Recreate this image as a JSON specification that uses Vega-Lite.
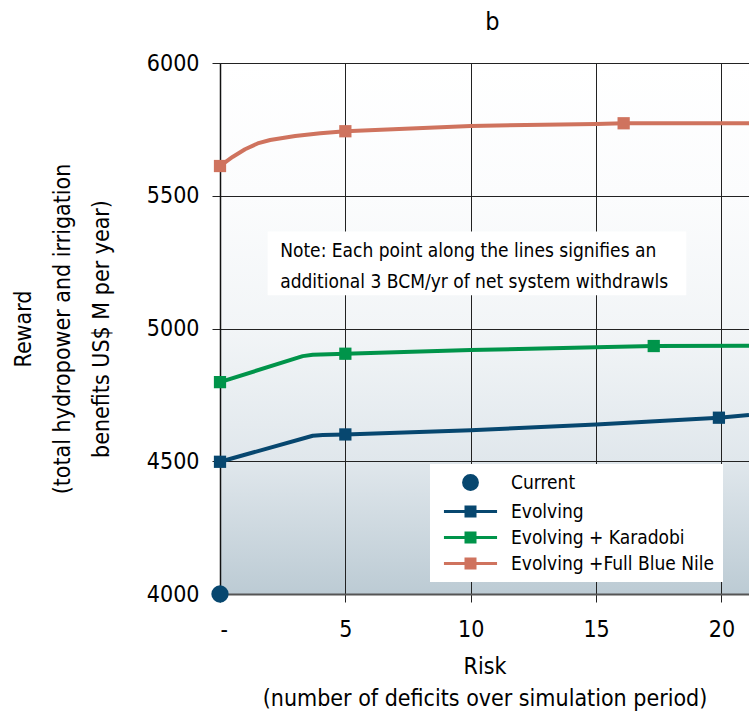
{
  "$schema": "https://vega.github.io/schema/vega-lite/v6.json",
  "width": 529,
  "height": 531,
  "autosize": {"type": "none"},
  "padding": {"left": 220, "top": 63, "right": 0, "bottom": 118},
  "background": "white",
  "title": {"text": "b", "fontSize": 25, "font": "DejaVu Sans Condensed, Liberation Sans", "fontWeight": "normal", "anchor": "middle", "dx": 8, "offset": 17, "color": "black"},
  "config": {"view": {"stroke": null, "fill": {"gradient": "linear", "x1": 0, "y1": 0, "x2": 0, "y2": 1, "stops": [
        {"offset": 0, "color": "#ffffff"},
        {"offset": 0.25, "color": "#fbfcfd"},
        {"offset": 0.5, "color": "#f2f5f7"},
        {"offset": 0.75, "color": "#e0e7ec"},
        {"offset": 1, "color": "#bccbd4"}
      ]}}, "font": "DejaVu Sans Condensed, Liberation Sans"},
  "datasets": {
    "lines": [
      {"series": "Evolving", "risk": 0, "reward": 4498},
      {"series": "Evolving", "risk": 3.7, "reward": 4596},
      {"series": "Evolving", "risk": 4.1, "reward": 4599},
      {"series": "Evolving", "risk": 5, "reward": 4601},
      {"series": "Evolving", "risk": 10, "reward": 4617},
      {"series": "Evolving", "risk": 15, "reward": 4638},
      {"series": "Evolving", "risk": 19.9, "reward": 4664},
      {"series": "Evolving", "risk": 21.1, "reward": 4674},
      {"series": "Evolving + Karadobi", "risk": 0, "reward": 4798},
      {"series": "Evolving + Karadobi", "risk": 3.3, "reward": 4896},
      {"series": "Evolving + Karadobi", "risk": 3.7, "reward": 4901},
      {"series": "Evolving + Karadobi", "risk": 5, "reward": 4905},
      {"series": "Evolving + Karadobi", "risk": 10, "reward": 4919},
      {"series": "Evolving + Karadobi", "risk": 15, "reward": 4929},
      {"series": "Evolving + Karadobi", "risk": 17.3, "reward": 4934},
      {"series": "Evolving + Karadobi", "risk": 21.1, "reward": 4935},
      {"series": "Evolving +Full Blue Nile", "risk": 0, "reward": 5612},
      {"series": "Evolving +Full Blue Nile", "risk": 0.5, "reward": 5646},
      {"series": "Evolving +Full Blue Nile", "risk": 1, "reward": 5675},
      {"series": "Evolving +Full Blue Nile", "risk": 1.5, "reward": 5697},
      {"series": "Evolving +Full Blue Nile", "risk": 2, "reward": 5710},
      {"series": "Evolving +Full Blue Nile", "risk": 3, "reward": 5725},
      {"series": "Evolving +Full Blue Nile", "risk": 4, "reward": 5735},
      {"series": "Evolving +Full Blue Nile", "risk": 5, "reward": 5743},
      {"series": "Evolving +Full Blue Nile", "risk": 10, "reward": 5763},
      {"series": "Evolving +Full Blue Nile", "risk": 15, "reward": 5770},
      {"series": "Evolving +Full Blue Nile", "risk": 16.1, "reward": 5773},
      {"series": "Evolving +Full Blue Nile", "risk": 21.1, "reward": 5773}
    ],
    "markers": [
      {"series": "Current", "risk": 0, "reward": 4000},
      {"series": "Evolving", "risk": 0, "reward": 4498},
      {"series": "Evolving", "risk": 5, "reward": 4601},
      {"series": "Evolving", "risk": 19.9, "reward": 4664},
      {"series": "Evolving + Karadobi", "risk": 0, "reward": 4798},
      {"series": "Evolving + Karadobi", "risk": 5, "reward": 4905},
      {"series": "Evolving + Karadobi", "risk": 17.3, "reward": 4934},
      {"series": "Evolving +Full Blue Nile", "risk": 0, "reward": 5612},
      {"series": "Evolving +Full Blue Nile", "risk": 5, "reward": 5743},
      {"series": "Evolving +Full Blue Nile", "risk": 16.1, "reward": 5773}
    ]
  },
  "layer": [
    {
      "data": {"name": "lines"},
      "mark": {"type": "line", "strokeWidth": 4, "strokeJoin": "round"},
      "encoding": {
        "x": {"field": "risk", "type": "quantitative",
          "scale": {"domain": [0, 21.1], "nice": false, "zero": false},
          "axis": {"title": ["Risk", "(number of deficits over simulation period)"], "values": [0, 5, 10, 15, 20],
            "labelExpr": "datum.value == 0 ? '-' : datum.label",
            "grid": true, "gridColor": "#222222", "gridWidth": 1, "domainColor": "#555555", "domainWidth": 2,
            "tickColor": "#222222", "tickSize": 8, "labelFontSize": 23, "labelColor": "black", "labelPadding": 16,
            "titleFontSize": 23, "titleFontWeight": "normal", "titleColor": "black", "titleLineHeight": 32, "titlePadding": 14}},
        "y": {"field": "reward", "type": "quantitative",
          "scale": {"domain": [4000, 6000], "nice": false, "zero": false},
          "axis": {"title": ["Reward", "(total hydropower and irrigation", "benefits US$ M per year)"], "values": [4000, 4500, 5000, 5500, 6000], "format": "d",
            "grid": true, "gridColor": "#222222", "gridWidth": 1, "domainColor": "#111111", "domainWidth": 1.5,
            "tickColor": "#222222", "tickSize": 8, "labelFontSize": 23, "labelColor": "black", "labelPadding": 13,
            "titleFontSize": 23, "titleFontWeight": "normal", "titleColor": "black", "titleLineHeight": 39, "titlePadding": 33}},
        "color": {"field": "series", "type": "nominal",
          "scale": {"domain": ["Current", "Evolving", "Evolving + Karadobi", "Evolving +Full Blue Nile"], "range": ["#07476f", "#07476f", "#00944a", "#cf735e"]}},
        "detail": {"field": "series"}
      }
    },
    {
      "data": {"values": [{}]},
      "mark": {"type": "rect", "fill": "white"},
      "encoding": {
        "x": {"datum": 1.9, "type": "quantitative"},
        "x2": {"datum": 18.6},
        "y": {"datum": 5365, "type": "quantitative"},
        "y2": {"datum": 5125}
      }
    },
    {
      "data": {"values": [{"note": ["Note: Each point along the lines signifies an", "additional 3 BCM/yr of net system withdrawls"]}]},
      "mark": {"type": "text", "align": "left", "baseline": "middle", "fontSize": 19, "lineHeight": 31, "color": "black"},
      "encoding": {
        "x": {"datum": 2.4, "type": "quantitative"},
        "y": {"datum": 5292, "type": "quantitative"},
        "text": {"field": "note"}
      }
    },
    {
      "data": {"name": "markers"},
      "mark": {"type": "point", "filled": true, "opacity": 1},
      "encoding": {
        "x": {"field": "risk", "type": "quantitative"},
        "y": {"field": "reward", "type": "quantitative"},
        "color": {"field": "series", "type": "nominal"},
        "shape": {"condition": {"test": "datum.series == 'Current'", "value": "circle"}, "value": "square"},
        "size": {"condition": {"test": "datum.series == 'Current'", "value": 300}, "value": 150}
      }
    },
    {
      "data": {"name": "markers"},
      "mark": {"type": "point", "filled": true, "opacity": 0},
      "encoding": {
        "x": {"field": "risk", "type": "quantitative"},
        "y": {"field": "reward", "type": "quantitative"},
        "color": {"field": "series", "type": "nominal",
          "legend": {"orient": "none", "legendX": 210, "legendY": 401, "title": null, "fillColor": "white", "padding": 8,
            "symbolSize": 324, "symbolStrokeWidth": 3, "symbolOffset": 22, "labelOffset": 30,
            "labelFontSize": 19, "labelColor": "black", "rowPadding": 5, "labelLimit": 400,
            "symbolOpacity": 1,
            "encode": {"symbols": {"update": {"stroke": {"scale": "color", "field": "value"}, "fill": {"scale": "color", "field": "value"}, "strokeWidth": {"value": 3}, "opacity": {"value": 1}}}}}},
        "shape": {"field": "series", "type": "nominal",
          "scale": {"domain": ["Current", "Evolving", "Evolving + Karadobi", "Evolving +Full Blue Nile"],
            "range": ["M-0.77,0A0.77,0.77 0 1,0 0.77,0A0.77,0.77 0 1,0 -0.77,0Z", "M-2.95,0H2.95M-0.5,-0.5H0.5V0.5H-0.5Z", "M-2.95,0H2.95M-0.5,-0.5H0.5V0.5H-0.5Z", "M-2.95,0H2.95M-0.5,-0.5H0.5V0.5H-0.5Z"]}}
      }
    }
  ]
}
